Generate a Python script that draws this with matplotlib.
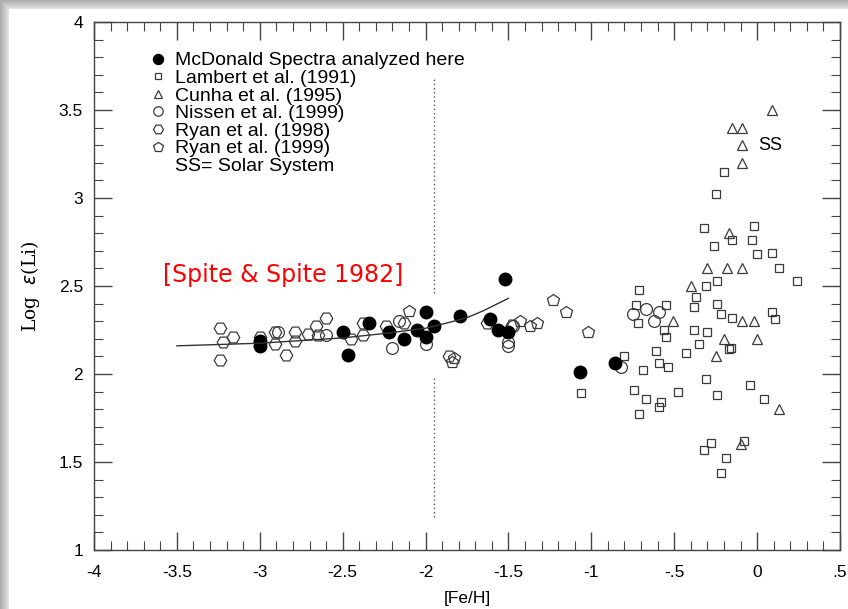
import numpy as np
import matplotlib.pyplot as plt
from matplotlib.lines import Line2D

# McDonald spectra analyzed here
mcd_feh = [-3.00, -3.00, -2.50, -2.47, -2.34, -2.22, -2.13, -2.05, -2.00, -2.00,
           -1.95, -1.79, -1.61, -1.56, -1.50, -1.52, -1.07, -0.86]
mcd_li = [2.19, 2.16, 2.24, 2.11, 2.29, 2.24, 2.20, 2.25, 2.35, 2.21,
          2.27, 2.33, 2.31, 2.25, 2.24, 2.54, 2.01, 2.06]

# Lambert et al. (1991)
lam_feh = [-0.20, -0.25, -0.32, -0.02, -0.15, -0.03, -0.26, 0.00, 0.09, 0.13,
           0.24, -0.24, -0.31, -0.71, -0.73, -0.55, -0.72, -0.56, -0.55, -0.61,
           -0.80, -0.59, -0.54, -0.69, -0.74, -0.67, -0.71, -0.58, -0.59, -0.48,
           -0.43, -0.35, -0.38, -0.30, -0.38, -0.37, -0.24, -0.22, -0.15, -0.17,
           -0.16, -0.31, -0.24, -0.04, 0.04, 0.09, 0.11, -0.28, -0.32, -0.08,
           -0.19, -0.22, -1.06]
lam_li = [3.15, 3.02, 2.83, 2.84, 2.76, 2.76, 2.73, 2.68, 2.69, 2.60,
          2.53, 2.53, 2.50, 2.48, 2.39, 2.39, 2.29, 2.25, 2.21, 2.13,
          2.10, 2.06, 2.04, 2.02, 1.91, 1.86, 1.77, 1.84, 1.81, 1.90,
          2.12, 2.17, 2.25, 2.24, 2.38, 2.44, 2.40, 2.34, 2.32, 2.14,
          2.15, 1.97, 1.88, 1.94, 1.86, 2.35, 2.31, 1.61, 1.57, 1.62,
          1.52, 1.44, 1.89]

# Cunha et al. (1995)
cun_feh = [0.09, -0.15, -0.09, -0.09, -0.09, -0.17, -0.30, -0.18, -0.09, -0.40,
           -0.51, -0.09, -0.02, -0.20, 0.00, -0.25, 0.13, -0.10]
cun_li = [3.50, 3.40, 3.40, 3.30, 3.20, 2.80, 2.60, 2.60, 2.60, 2.50,
          2.30, 2.30, 2.30, 2.20, 2.20, 2.10, 1.80, 1.60]

# Nissen et al. (1999)
nis_feh = [-2.89, -2.60, -2.20, -2.16, -2.00, -1.50, -1.50, -1.47,
           -0.82, -0.75, -0.67, -0.59, -0.62]
nis_li = [2.24, 2.22, 2.15, 2.30, 2.17, 2.18, 2.16, 2.27,
          2.04, 2.34, 2.37, 2.35, 2.30]

# Ryan et al. (1998)
r98_feh = [-3.24, -3.16, -3.22, -3.24, -3.00, -2.91, -2.91, -2.84, -2.79, -2.79,
           -2.71, -2.66, -2.65, -2.60, -2.45, -2.38, -2.38, -2.24, -2.13, -1.86,
           -1.63, -1.48]
r98_li = [2.26, 2.21, 2.18, 2.08, 2.21, 2.24, 2.17, 2.11, 2.24, 2.19,
          2.23, 2.27, 2.22, 2.32, 2.20, 2.29, 2.22, 2.27, 2.29, 2.10,
          2.29, 2.28]

# Ryan et al. (1999)
r99_feh = [-2.10, -1.84, -1.83, -1.43, -1.37, -1.33, -1.23, -1.15, -1.02]
r99_li = [2.36, 2.07, 2.09, 2.30, 2.27, 2.29, 2.42, 2.35, 2.24]

# Spite plateau trend
trend_feh = [-3.50, -3.00, -2.50, -2.25, -2.00, -1.85, -1.75, -1.65, -1.50]
trend_li = [2.16, 2.175, 2.205, 2.23, 2.26, 2.295, 2.32, 2.36, 2.43]

xticks = [-4, -3.5, -3, -2.5, -2, -1.5, -1, -0.5, 0, 0.5]
yticks = [1, 1.5, 2, 2.5, 3, 3.5, 4]

sans = ['Liberation Sans', 'DejaVu Sans']

fig = plt.figure(figsize=(8.48, 6.09), dpi=100)

# soft grey shadow on the top and left edges
bg = fig.add_axes([0, 0, 1, 1], zorder=-5)
h, w = 609, 848
img = np.ones((h, w))
ramp = np.linspace(0.68, 0.88, 9)
for i, v in enumerate(ramp):
    img[i, :] = np.minimum(img[i, :], v)
    img[:, i] = np.minimum(img[:, i], v)
bg.imshow(img, cmap='gray', vmin=0, vmax=1, aspect='auto', interpolation='bilinear')
bg.axis('off')

ax = fig.add_axes([94 / 848, 1 - 550 / 609, 746 / 848, 528 / 609])
ax.set_xlim(-4, 0.5)
ax.set_ylim(1, 4)

edge = '#3a3a3a'
kw = dict(linestyle='none', markerfacecolor='none', markeredgecolor=edge, markeredgewidth=0.9)
ax.plot(lam_feh, lam_li, marker='s', markersize=6, label='Lambert et al. (1991)', **kw)
ax.plot(cun_feh, cun_li, marker='^', markersize=7.5, label='Cunha et al. (1995)', **kw)
ax.plot(nis_feh, nis_li, marker='o', markersize=8.5, label='Nissen et al. (1999)', **kw)
ax.plot(r98_feh, r98_li, marker='H', markersize=9, label='Ryan et al. (1998)', **kw)
ax.plot(r99_feh, r99_li, marker='p', markersize=9, label='Ryan et al. (1999)', **kw)
ax.plot(mcd_feh, mcd_li, linestyle='none', marker='o', markersize=9,
        color='black', label='McDonald Spectra analyzed here')
ax.plot(trend_feh, trend_li, color='#333333', linewidth=1.0)

# metallicity divide, broken around the plateau stars
ax.vlines([-1.95, -1.95], [2.46, 1.19], [3.69, 1.99], colors='#555555',
          linestyles=(0, (1, 2)), linewidth=1)

ax.text(-3.585, 2.56, '[Spite & Spite 1982]', color='red', fontsize=17,
        family='DejaVu Sans', va='center', ha='left')
ax.text(0.005, 3.30, 'SS', fontsize=13, family=sans, va='center', ha='left')

handles, labels = ax.get_legend_handles_labels()
order = [5, 0, 1, 2, 3, 4]
handles = [handles[i] for i in order]
labels = [labels[i] for i in order]
handles.append(Line2D([], [], linestyle='none'))
labels.append('SS= Solar System')
leg = ax.legend(handles, labels, loc='upper left', bbox_to_anchor=(0.062, 0.962),
                frameon=False, handlelength=0.8, handletextpad=0.5,
                labelspacing=0.0, borderpad=0, markerscale=0.8,
                prop={'family': sans, 'size': 14})

for spine in ax.spines.values():
    spine.set_color('#444444')
    spine.set_linewidth(1)

ax.set_xticks(xticks)
ax.set_yticks(yticks)
ax.set_xticks(np.arange(-4, 0.51, 0.1), minor=True)
ax.set_yticks(np.arange(1, 4.01, 0.1), minor=True)


def fmt(v):
    s = f'{v:g}'
    return s.replace('0.', '.') if s != '0' else s


ax.set_xticklabels([fmt(v) for v in xticks])
ax.set_yticklabels([fmt(v) for v in yticks])
ax.tick_params(which='both', direction='in', top=True, right=True, color='#444444')
ax.tick_params(which='major', length=13, width=1, labelsize=12.5)
ax.tick_params(which='minor', length=6.5, width=0.8)
ax.tick_params(axis='x', which='major', pad=11)
ax.tick_params(axis='y', which='major', pad=8)
for lab in ax.get_xticklabels() + ax.get_yticklabels():
    lab.set_family(sans)

ax.set_xlabel('[Fe/H]', family=sans, fontsize=12.5, labelpad=8)
ax.set_ylabel(r'Log  $\epsilon$(Li)', family='DejaVu Serif', fontsize=13.5, labelpad=12)

fig.savefig('out.png', dpi=100)
